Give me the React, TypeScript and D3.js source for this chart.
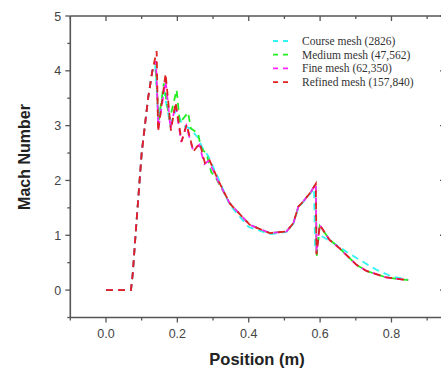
import React from "react";
import * as d3 from "d3";

const seriesNames = ["Course mesh (2826)", "Medium mesh (47,562)", "Fine mesh (62,350)", "Refined mesh (157,840)"];
const seriesColors = ["#33f4f4", "#22ee22", "#ff22ff", "#dd2222"];

const riseX = [0, 0.07, 0.075, 0.085, 0.1, 0.118, 0.13];
const riseY = [0, 0, 0.3, 1.2, 2.5, 3.5, 4.0];

const courseX = [...riseX, 0.138, 0.147, 0.162, 0.18, 0.197, 0.215, 0.235, 0.258, 0.27, 0.286, 0.314, 0.347, 0.4, 0.46, 0.506, 0.525, 0.539, 0.557, 0.575, 0.583, 0.586, 0.6, 0.64, 0.674, 0.711, 0.758, 0.8, 0.845];
const courseY = [...riseY, 4.1, 3.1, 3.65, 3.02, 3.3, 3.0, 2.95, 2.78, 2.6, 2.45, 2.05, 1.55, 1.15, 1.02, 1.06, 1.21, 1.5, 1.64, 1.78, 1.85, 0.77, 1.0, 0.85, 0.7, 0.55, 0.37, 0.25, 0.19];

const mediumX = [...riseX, 0.138, 0.148, 0.162, 0.178, 0.198, 0.207, 0.23, 0.238, 0.258, 0.266, 0.282, 0.295, 0.306, 0.347, 0.403, 0.459, 0.506, 0.525, 0.539, 0.557, 0.575, 0.588, 0.59, 0.599, 0.627, 0.655, 0.702, 0.73, 0.786, 0.847];
const mediumY = [...riseY, 4.17, 3.1, 3.77, 3.1, 3.65, 3.05, 3.24, 2.95, 2.86, 2.6, 2.48, 2.15, 2.07, 1.58, 1.19, 1.04, 1.07, 1.22, 1.52, 1.65, 1.8, 1.94, 0.6, 1.17, 0.92, 0.76, 0.46, 0.35, 0.23, 0.18];

const fineX = [...riseX, 0.14, 0.147, 0.167, 0.181, 0.195, 0.211, 0.225, 0.244, 0.261, 0.276, 0.288, 0.313, 0.347, 0.403, 0.459, 0.506, 0.525, 0.539, 0.557, 0.575, 0.588, 0.59, 0.599, 0.627, 0.655, 0.702, 0.73, 0.786, 0.847];
const fineY = [...riseY, 4.18, 2.95, 3.82, 2.95, 3.38, 2.7, 3.0, 2.55, 2.65, 2.3, 2.36, 2.0, 1.58, 1.19, 1.04, 1.07, 1.22, 1.52, 1.65, 1.8, 1.94, 0.68, 1.19, 0.91, 0.76, 0.46, 0.35, 0.23, 0.18];

const refinedX = [...riseX, 0.142, 0.146, 0.167, 0.182, 0.195, 0.212, 0.226, 0.245, 0.263, 0.277, 0.289, 0.314, 0.347, 0.403, 0.459, 0.506, 0.525, 0.539, 0.557, 0.575, 0.588, 0.59, 0.599, 0.627, 0.655, 0.702, 0.73, 0.786, 0.847];
const refinedY = [...riseY, 4.36, 2.89, 3.95, 2.91, 3.42, 2.71, 3.02, 2.53, 2.68, 2.32, 2.39, 2.01, 1.58, 1.19, 1.04, 1.07, 1.22, 1.52, 1.65, 1.8, 1.94, 0.65, 1.19, 0.91, 0.76, 0.46, 0.35, 0.23, 0.18];

const seriesXs = [courseX, mediumX, fineX, refinedX];
const seriesYs = [courseY, mediumY, fineY, refinedY];

const xMajor = [0.0, 0.2, 0.4, 0.6, 0.8];
const xMinor = [-0.1, 0.1, 0.3, 0.5, 0.7, 0.9];
const yMajor = [0, 1, 2, 3, 4, 5];
const yMinor = [-0.5, 0.5, 1.5, 2.5, 3.5, 4.5];

export default function App() {
  const W = 441, H = 374;
  const left = 70.3, right = 445, top = 16, bottom = 317.5;
  const x = d3.scaleLinear().domain([-0.1, 0.95]).range([left, right]);
  const y = d3.scaleLinear().domain([-0.5, 5]).range([bottom, top]);
  const line = d3.line<[number, number]>().x(d => x(d[0])).y(d => y(d[1]));
  const axisColor = "#555";
  const tickFont = "'Liberation Sans', Arial, sans-serif";
  return (
    <svg width={W} height={H} style={{ position: "absolute", left: 0, top: 0, background: "#fff" }}>
      <rect x={0} y={0} width={W} height={H} fill="#fff" />
      {seriesXs.map((xs, i) => (
        <path key={i} d={line(xs.map((v, j) => [v, seriesYs[i][j]]) as [number, number][]) || ""}
          fill="none" stroke={seriesColors[i]} strokeWidth={1.8} strokeDasharray="7,5" />
      ))}
      {/* frame */}
      <line x1={left} x2={left} y1={top} y2={bottom} stroke={axisColor} strokeWidth={1.6} />
      <line x1={left} x2={right} y1={bottom} y2={bottom} stroke={axisColor} strokeWidth={1.6} />
      <line x1={left} x2={right} y1={top} y2={top} stroke={axisColor} strokeWidth={1.6} />
      <line x1={right} x2={right} y1={top} y2={bottom} stroke={axisColor} strokeWidth={1.6} />
      {xMajor.map(v => (
        <g key={"xM" + v}>
          <line x1={x(v)} x2={x(v)} y1={bottom} y2={bottom + 5} stroke={axisColor} strokeWidth={1.3} />
          <line x1={x(v)} x2={x(v)} y1={top} y2={top + 5} stroke={axisColor} strokeWidth={1.3} />
          <text x={x(v)} y={bottom + 20} textAnchor="middle" fontFamily={tickFont} fontSize={12.5} fill="#444">{v.toFixed(1)}</text>
        </g>
      ))}
      {xMinor.map(v => (
        <g key={"xm" + v}>
          <line x1={x(v)} x2={x(v)} y1={bottom} y2={bottom + 3} stroke={axisColor} strokeWidth={1.3} />
          <line x1={x(v)} x2={x(v)} y1={top} y2={top + 3} stroke={axisColor} strokeWidth={1.3} />
        </g>
      ))}
      {yMajor.map(v => (
        <g key={"yM" + v}>
          <line x1={left - 5} x2={left} y1={y(v)} y2={y(v)} stroke={axisColor} strokeWidth={1.3} />
          <line x1={right - 5} x2={right} y1={y(v)} y2={y(v)} stroke={axisColor} strokeWidth={1.3} />
          <text x={left - 9} y={y(v) + 4.5} textAnchor="end" fontFamily={tickFont} fontSize={12.5} fill="#444">{v}</text>
        </g>
      ))}
      {yMinor.map(v => (
        <g key={"ym" + v}>
          <line x1={left - 3} x2={left} y1={y(v)} y2={y(v)} stroke={axisColor} strokeWidth={1.3} />
          <line x1={right - 3} x2={right} y1={y(v)} y2={y(v)} stroke={axisColor} strokeWidth={1.3} />
        </g>
      ))}
      <text x={257} y={365} textAnchor="middle" fontFamily={tickFont} fontWeight="bold" fontSize={16.5} fill="#222">Position (m)</text>
      <text transform={`translate(30, 157) rotate(-90)`} textAnchor="middle" fontFamily={tickFont} fontWeight="bold" fontSize={16} fill="#222">Mach Number</text>
      {seriesNames.map((name, i) => (
        <g key={"lg" + i}>
          <line x1={273} x2={293} y1={41 + i * 13.7} y2={41 + i * 13.7} stroke={seriesColors[i]} strokeWidth={1.8} strokeDasharray="5,5" />
          <text x={302} y={45 + i * 13.7} fontFamily="'Liberation Serif', 'Times New Roman', serif" fontSize={11.5} fill="#333">{name}</text>
        </g>
      ))}
    </svg>
  );
}
